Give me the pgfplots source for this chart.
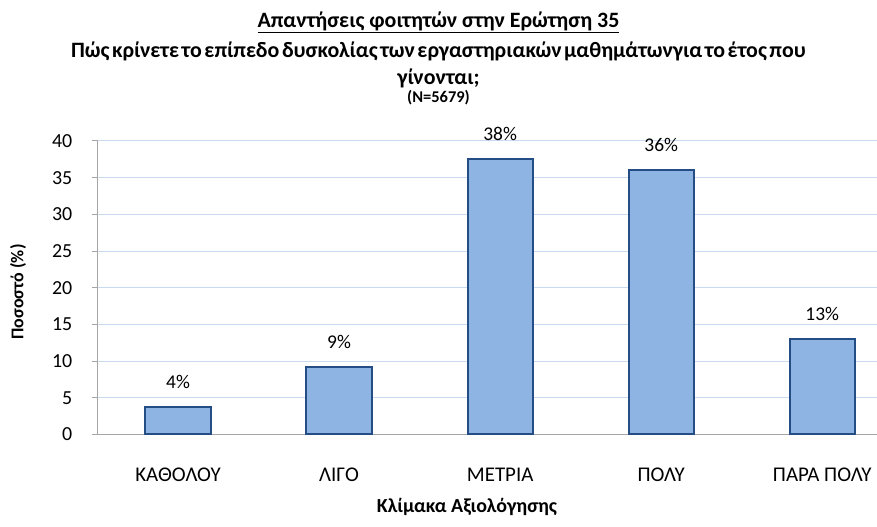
\documentclass[border=0pt]{standalone}
\usepackage{pgfplots}
\pgfplotsset{compat=1.18}
\usepackage{fontspec}
\setmainfont{Carlito}
\definecolor{barc}{HTML}{8EB4E3}
\definecolor{edgec}{HTML}{254D85}
\definecolor{gridc}{HTML}{CADBF1}
\definecolor{axisc}{HTML}{A6A6A6}
\begin{document}
\begin{tikzpicture}[x=1bp,y=1bp]
\useasboundingbox (0,0) rectangle (877,527);
\begin{axis}[
  at={(97.5bp,92.5bp)}, anchor=south west,
  scale only axis, width=779.5bp, height=293.5bp,
  xmin=-0.5, xmax=4.34, ymin=0, ymax=40,
  ybar, bar width=0.405,
  clip=false,
  ytick={0,5,...,40},
  xtick={0,1,2,3,4},
  xticklabels={ΚΑΘΟΛΟΥ,ΛΙΓΟ,ΜΕΤΡΙΑ,ΠΟΛΥ,ΠΑΡΑ ΠΟΛΥ},
  ymajorgrids, grid style={color=gridc, line width=1bp},
  axis x line*=bottom, axis y line*=left,
  axis line style={color=axisc, line width=1bp, -},
  x tick style={draw=none},
  y tick style={color=axisc, line width=1bp},
  tick align=outside, major tick length=6bp,
  /pgf/number format/assume math mode=true,
  yticklabel style={font=\fontsize{20}{20}\selectfont, anchor=east, inner sep=0pt, xshift=-19bp},
  xticklabel style={font=\fontsize{21}{21}\selectfont, anchor=center, inner sep=0pt, yshift=-34bp},
  nodes near coords={\pgfmathprintnumber[fixed,precision=0]{\pgfplotspointmeta}\%},
  nodes near coords style={font=\fontsize{19.5}{19.5}\selectfont, anchor=center, inner sep=0pt, yshift=25bp, text=black},
]
\addplot[fill=barc, draw=edgec, line width=2bp] coordinates {(0,3.8) (1,9.2) (2,37.6) (3,36.0) (4,13.0)};
\end{axis}
\node[font=\bfseries\fontsize{22}{22}\selectfont] at (438.5,505) {\underline{Απαντήσεις φοιτητών στην Ερώτηση 35}};
\node[font=\bfseries\fontsize{22}{22}\selectfont] at (438.5,476) {\spaceskip=2.6bp\relax Πώς κρίνετε το επίπεδο δυσκολίας των εργαστηριακών μαθημάτωνγια το έτος που};
\node[font=\bfseries\fontsize{22}{22}\selectfont] at (438.5,449) {γίνονται;};
\node[font=\bfseries\fontsize{16.5}{16.5}\selectfont] at (438.5,429) {(N=5679)};
\node[font=\bfseries\fontsize{18}{18}\selectfont, rotate=90] at (18,235) {Ποσοστό (\%)};
\node[font=\bfseries\fontsize{20}{20}\selectfont] at (467,20) {Κλίμακα Αξιολόγησης};
\end{tikzpicture}
\end{document}
